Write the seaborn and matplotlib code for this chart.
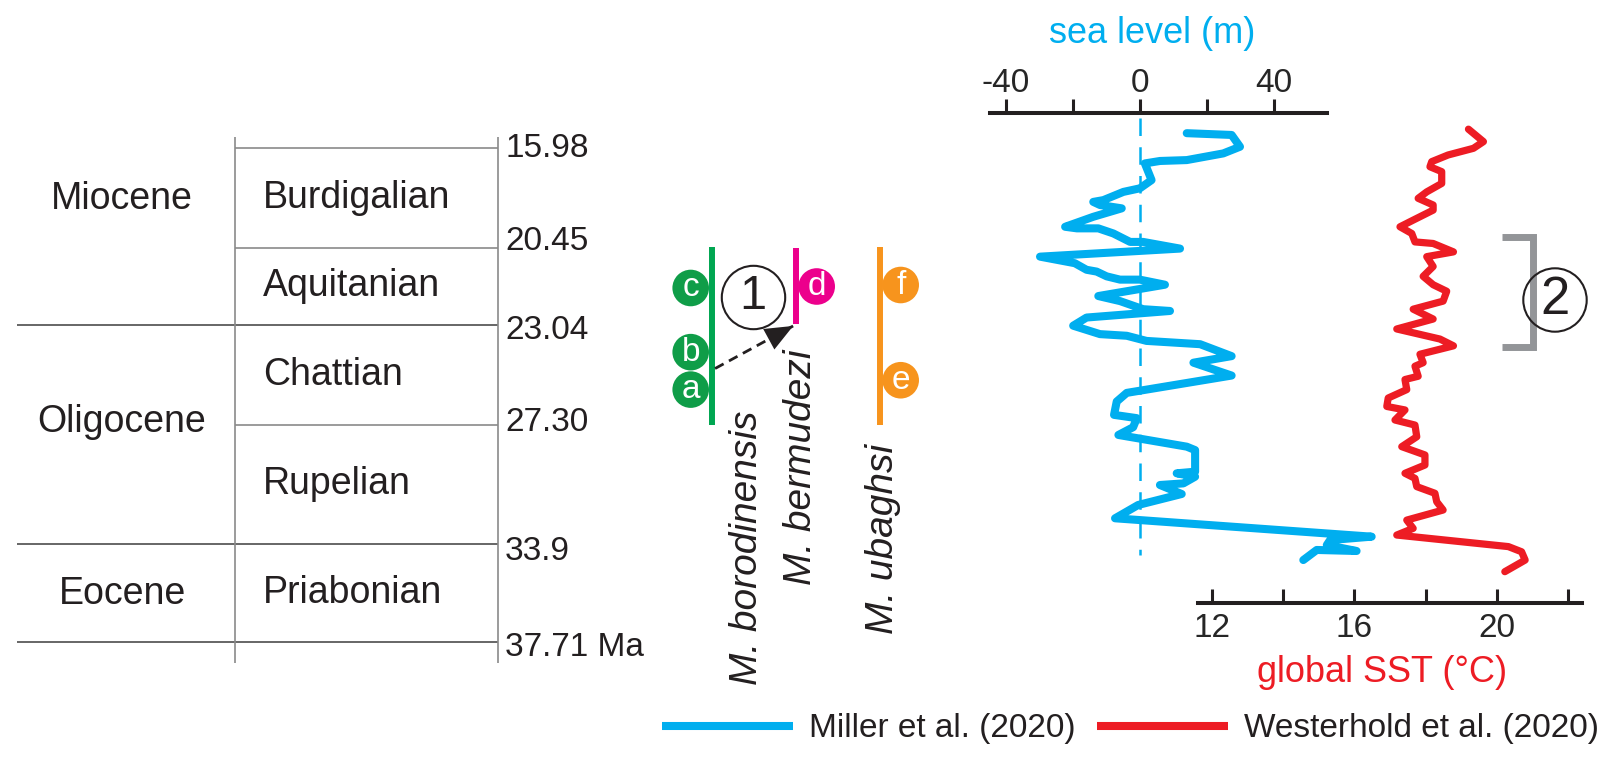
import numpy as np
import matplotlib
matplotlib.use("Agg")
import matplotlib.pyplot as plt
import seaborn as sns
from matplotlib.lines import Line2D

# ---- geologic time scale (Ma) ----
EPOCHS = ["Miocene", "Oligocene", "Eocene"]
EPOCH_LABEL_AGE = [18.25, 27.2, 35.85]
EPOCH_BOUNDARIES = [23.04, 33.9, 37.71]
STAGES = ["Burdigalian", "Aquitanian", "Chattian", "Rupelian", "Priabonian"]
BOUNDARIES = [15.98, 20.45, 23.04, 27.30, 33.9, 37.71]
BOUNDARY_LABELS = ["15.98", "20.45", "23.04", "27.30", "33.9", "37.71 Ma"]

# ---- species ranges and occurrences ----
SPECIES = ["M. borodinensis", "M. bermudezi", "M. ubaghsi"]
RANGE_TOP = [20.4, 20.45, 20.4]
RANGE_BASE = [27.3, 23.0, 27.3]
OCC_LABELS = ["a", "b", "c", "d", "e", "f"]
OCC_SPECIES = [0, 0, 0, 1, 2, 2]
OCC_AGE = [25.8, 24.2, 21.8, 21.75, 25.4, 21.7]
ARROW_AGES = (24.9, 23.08)  # from M. borodinensis to base of M. bermudezi

# ---- sea level (Miller et al. 2020) ----
SEA_LEVEL_AGE = [15.30, 15.38, 15.91, 16.21, 16.51, 16.55, 16.66, 17.41, 17.78, 17.94,
                 18.31, 18.39, 18.53, 18.68, 19.06, 19.51, 19.58, 19.58, 19.81, 20.19,
                 20.19, 20.48, 20.75, 20.97, 21.19, 21.25, 21.41, 21.52, 21.52, 21.69,
                 22.07, 22.24, 22.51, 22.57, 22.79, 23.07, 23.43, 23.50, 23.72, 23.86,
                 24.37, 24.65, 25.20, 25.94, 26.31, 26.88, 27.02, 27.44, 27.87, 28.52,
                 28.71, 29.91, 30.00, 30.19, 30.56, 30.65, 31.15, 31.76, 32.50, 33.52,
                 33.71, 33.96, 34.19, 34.15, 34.54]
SEA_LEVEL = [14.1, 27.5, 30.0, 25.0, 14.1, 6.1, 1.6, 3.6, 0.1, -4.8,
             -10.8, -13.8, -11.8, -5.3, -13.8, -22.2, -18.7, -12.3, -7.8, -2.8,
             1.1, 12.1, -29.7, -19.3, -15.8, -12.8, -9.8, -5.8, 0.1, 7.6,
             -12.3, -5.8, 1.1, 9.1, -15.8, -19.8, -11.8, -3.8, 2.1, 18.1,
             27.5, 16.1, 27.5, -3.8, -6.8, -7.6, -0.8, -1.9, -6.3, 14.1,
             16.6, 16.6, 11.1, 16.6, 13.1, 6.1, 12.6, -0.4, -7.3, 69.3,
             56.9, 55.9, 64.8, 52.9, 48.9]

# ---- global SST (Westerhold et al. 2020) ----
SST_AGE = [15.12, 15.68, 15.98, 16.28, 16.58, 16.81, 17.03, 17.56, 17.94, 18.23,
           18.53, 18.76, 19.21, 19.51, 19.81, 20.19, 20.26, 20.59, 20.75, 21.08,
           21.41, 21.69, 21.91, 22.24, 22.51, 22.84, 23.21, 23.64, 23.93, 24.29,
           24.65, 24.80, 25.23, 25.37, 25.80, 26.16, 26.52, 26.67, 27.10, 27.32,
           27.97, 28.52, 28.98, 29.54, 30.00, 30.28, 30.74, 31.11, 31.58, 32.04,
           32.60, 33.06, 33.43, 34.02, 34.22, 34.54, 34.99]
SST = [19.20, 19.62, 19.34, 18.63, 18.17, 18.12, 18.45, 18.45, 18.03, 17.79,
       18.21, 18.21, 17.65, 17.28, 17.61, 17.70, 18.21, 18.78, 18.03, 18.21,
       17.93, 18.21, 18.59, 18.49, 17.65, 18.21, 17.19, 18.40, 18.78, 17.84,
       17.93, 17.70, 17.79, 17.42, 17.47, 16.95, 16.91, 17.42, 17.14, 17.70,
       17.75, 17.33, 17.98, 17.98, 17.42, 17.70, 17.75, 18.26, 18.31, 18.49,
       17.47, 17.65, 17.19, 20.32, 20.69, 20.79, 20.22]
INTERVAL_2 = (19.96, 24.0)

# ---- colours ----
BLUE = "#00aeef"
RED = "#ed1c24"
SPECIES_COLORS = ["#00a651", "#ec008c", "#f7941d"]
DOT_COLORS = ["#0f9d48", "#ec008c", "#f7941d"]
GREY = "#939598"
INK = "#231f20"

# ---- layout (pixels) ----
W, H = 1604, 765
TOP_PX = 148.3                                  # where 15.98 Ma is drawn
STAGE_BOX_PX = [99.4, 77.3, 99.7, 118.8, 98.5]  # schematic height of each stage


def _knots():
    pos = TOP_PX + np.concatenate([[0], np.cumsum(STAGE_BOX_PX)])
    ages = np.array(BOUNDARIES, float)
    s0 = (pos[1] - pos[0]) / (ages[1] - ages[0])
    s1 = (pos[-1] - pos[-2]) / (ages[-1] - ages[-2])
    ages = np.r_[ages[0] - 100, ages, ages[-1] + 100]
    pos = np.r_[pos[0] - 100 * s0, pos, pos[-1] + 100 * s1]
    return ages, pos


KA, KP = _knots()


def to_px(a):
    return np.interp(a, KA, KP)


def to_age(p):
    return np.interp(p, KP, KA)


def age_axes(rect_px, top_px, bot_px):
    x0, x1 = rect_px
    ax = fig.add_axes([x0 / W, 1 - bot_px / H, (x1 - x0) / W, (bot_px - top_px) / H])
    ax.set_facecolor("none")
    ax.set_yscale("function", functions=(to_px, to_age))
    ax.set_ylim(to_age(bot_px), to_age(top_px))
    for s in ax.spines.values():
        s.set_visible(False)
    ax.tick_params(left=False, labelleft=False, bottom=False, labelbottom=False)
    return ax


sns.set_theme(style="white")
plt.rcParams["font.family"] = ["Liberation Sans", "DejaVu Sans"]
plt.rcParams["text.color"] = INK

fig = plt.figure(figsize=(W / 100, H / 100), dpi=100)

# ================= time scale =================
ax_ts = age_axes((0, 520), 0, H)
ax_ts.set_xlim(0, 520)
X_EPOCH, X_STAGE, X_RIGHT = 17, 235, 498
ax_ts.hlines([b for b in BOUNDARIES if b not in EPOCH_BOUNDARIES], X_STAGE, X_RIGHT,
             color="#8a8a8a", lw=1.2)
ax_ts.hlines(EPOCH_BOUNDARIES, X_EPOCH, X_RIGHT, color="#4d4d4d", lw=1.2)
ax_ts.vlines([X_STAGE, X_RIGHT], to_age(136.7), to_age(663), color="#8a8a8a", lw=1.2)
for name, age in zip(EPOCHS, EPOCH_LABEL_AGE):
    ax_ts.text(122, age, name, ha="center", va="center", fontsize=27)
for i, name in enumerate(STAGES):
    mid = to_age((to_px(BOUNDARIES[i]) + to_px(BOUNDARIES[i + 1])) / 2)
    ax_ts.text(263, mid, name, ha="left", va="center", fontsize=27)
label_shift_px = [0, -6, 5, -2, 8, 6]
for b, lab, sh in zip(BOUNDARIES, BOUNDARY_LABELS, label_shift_px):
    ax_ts.annotate(lab, xy=(505, b), xytext=(0, -sh * 0.72), textcoords="offset points",
                   ha="left", va="center", fontsize=24)

# ================= species ranges =================
COL_PX, COL_STEP = 711.7, 84.0
ax_sp = age_axes((600, 960), 0, H)
ax_sp.set_xlim((600 - COL_PX) / COL_STEP, (960 - COL_PX) / COL_STEP)
cols = [0.0, 1.0, 2.0]
for i in range(len(SPECIES)):
    ax_sp.plot([cols[i], cols[i]], [RANGE_TOP[i], RANGE_BASE[i]], color=SPECIES_COLORS[i],
               lw=4.3, solid_capstyle="butt", zorder=3)
side = [-1, 1, 1]
occ_x = [cols[s] + side[s] * 0.25 for s in OCC_SPECIES]
ax_sp.scatter(occ_x, OCC_AGE, s=694, c=[DOT_COLORS[s] for s in OCC_SPECIES],
              linewidths=0, zorder=2)
for x, a, lab in zip(occ_x, OCC_AGE, OCC_LABELS):
    ax_sp.text(x, a, lab, color="white", ha="center", va="center", fontsize=24, zorder=4)

# dashed arrow: dashed shaft plus a solid head
ax_sp.plot([0.04, 0.97], list(ARROW_AGES), color=INK, lw=2, dashes=(3.5, 2.2), zorder=4)
ax_sp.annotate("", xy=(0.97, ARROW_AGES[1]),
               xytext=(0.82, to_age(to_px(ARROW_AGES[1]) + 0.15 / 0.93 *
                                    (to_px(ARROW_AGES[0]) - to_px(ARROW_AGES[1])))),
               arrowprops=dict(arrowstyle="-|>,head_length=1.0,head_width=0.42",
                               mutation_scale=20, lw=0, color=INK,
                               shrinkA=0, shrinkB=0), zorder=4)
ax_sp.scatter([0.495], [22.09], s=2084, facecolor="white", edgecolor=INK, linewidths=1.5, zorder=5)
ax_sp.text(0.495, 22.09, "1", ha="center", va="center", fontsize=35, zorder=6)

name_x = [(757 - COL_PX) / COL_STEP, (811 - COL_PX) / COL_STEP, (893 - COL_PX) / COL_STEP]
name_bottom_px = [685, 585, 634]
for nm, x, b in zip(SPECIES, name_x, name_bottom_px):
    ax_sp.text(x, to_age(b), nm, rotation=90, rotation_mode="anchor", ha="left",
               va="baseline", fontstyle="italic", fontsize=28)

# ================= sea level / SST curves =================
SL_PX0, SL_SCALE = 1139.5, 3.35       # px of 0 m, px per m
SST_PX0, SST_SCALE = 1211.7, 35.66    # px of 12 degC, px per degC
AX_X0, AX_X1 = 940, 1600
AX_TOP, AX_BOT = 112.7, 603.3
ax = age_axes((AX_X0, AX_X1), AX_TOP, AX_BOT)
ax2 = ax.twiny()
ax2.set_facecolor("none")

sns.lineplot(x=SEA_LEVEL, y=SEA_LEVEL_AGE, ax=ax, sort=False, estimator=None, orient="y",
             color=BLUE, lw=5.8, solid_capstyle="round", solid_joinstyle="round")
sns.lineplot(x=SST, y=SST_AGE, ax=ax2, sort=False, estimator=None, orient="y",
             color=RED, lw=5.2, solid_capstyle="round", solid_joinstyle="round")
ax.set_ylim(to_age(AX_BOT), to_age(AX_TOP))

ax.set_xlim((AX_X0 - SL_PX0) / SL_SCALE, (AX_X1 - SL_PX0) / SL_SCALE)
ax2.set_xlim(12 + (AX_X0 - SST_PX0) / SST_SCALE, 12 + (AX_X1 - SST_PX0) / SST_SCALE)

ax.plot([0, 0], [14.6, 34.35], color=BLUE, lw=1.8, dashes=(7, 4.5), zorder=1)

# sea level axis on top
for s in ax.spines.values():
    s.set_visible(False)
ax.spines["top"].set_visible(True)
ax.spines["top"].set_linewidth(2.9)
ax.spines["top"].set_color(INK)
ax.spines["top"].set_bounds((990 - SL_PX0) / SL_SCALE, (1326.7 - SL_PX0) / SL_SCALE)
ax.xaxis.tick_top()
ax.set_xticks([-40, -20, 0, 20, 40], ["-40", "", "0", "", "40"])
ax.tick_params(axis="x", top=True, labeltop=True, bottom=False, labelbottom=False,
               direction="out", length=10, width=2.2, color=INK, pad=0, labelsize=24)
ax.set_xlabel("")
ax.text((1152 - AX_X0) / (AX_X1 - AX_X0), 1 + (AX_TOP - 34) / (AX_BOT - AX_TOP),
        "sea level (m)", transform=ax.transAxes, ha="center", va="center",
        color=BLUE, fontsize=26)

# SST axis at bottom
for s in ax2.spines.values():
    s.set_visible(False)
ax2.spines["bottom"].set_visible(True)
ax2.spines["bottom"].set_linewidth(2.9)
ax2.spines["bottom"].set_color(INK)
ax2.spines["bottom"].set_bounds(12 + (1198 - SST_PX0) / SST_SCALE, 12 + (1581.7 - SST_PX0) / SST_SCALE)
ax2.xaxis.tick_bottom()
ax2.set_xticks([12, 14, 16, 18, 20, 22], ["12", "", "16", "", "20", ""])
ax2.tick_params(axis="x", bottom=True, labelbottom=True, top=False, labeltop=False,
                direction="in", length=10, width=2.2, color=INK, pad=7, labelsize=24)
ax2.tick_params(axis="y", left=False, right=False, labelleft=False, labelright=False)
ax2.set_xlabel("")
ax2.text((1381.7 - AX_X0) / (AX_X1 - AX_X0), -(673 - AX_BOT) / (AX_BOT - AX_TOP),
         "global SST (\u00b0C)", transform=ax2.transAxes, ha="center", va="center",
         color=RED, fontsize=26)

# bracket and circled 2
b_left, b_right = 12 + (1501.7 - SST_PX0) / SST_SCALE, 12 + (1533.3 - SST_PX0) / SST_SCALE
ax2.plot([b_left, b_right, b_right, b_left],
         [INTERVAL_2[0], INTERVAL_2[0], INTERVAL_2[1], INTERVAL_2[1]],
         color=GREY, lw=5, solid_joinstyle="miter", solid_capstyle="butt", clip_on=False)
c2x = 12 + (1555 - SST_PX0) / SST_SCALE
c2y = to_age(300)
ax2.scatter([c2x], [c2y], s=2084, facecolor="none", edgecolor=INK, linewidths=1.5,
            clip_on=False, zorder=5)
ax2.text(c2x, c2y, "2", ha="center", va="center", fontsize=38, zorder=6)

# ================= legend =================
handles = [Line2D([], [], color=BLUE, lw=5.8, solid_capstyle="butt"),
           Line2D([], [], color=RED, lw=5.8, solid_capstyle="butt")]
fig.legend(handles, ["Miller et al. (2020)", "Westerhold et al. (2020)"], ncol=2,
           loc="center left", bbox_to_anchor=(661.7 / W, 1 - 729 / H), frameon=False,
           fontsize=24, handlelength=3.95, handletextpad=0.48, columnspacing=0.62,
           borderpad=0, borderaxespad=0)

fig.savefig("out.png", dpi=100)
